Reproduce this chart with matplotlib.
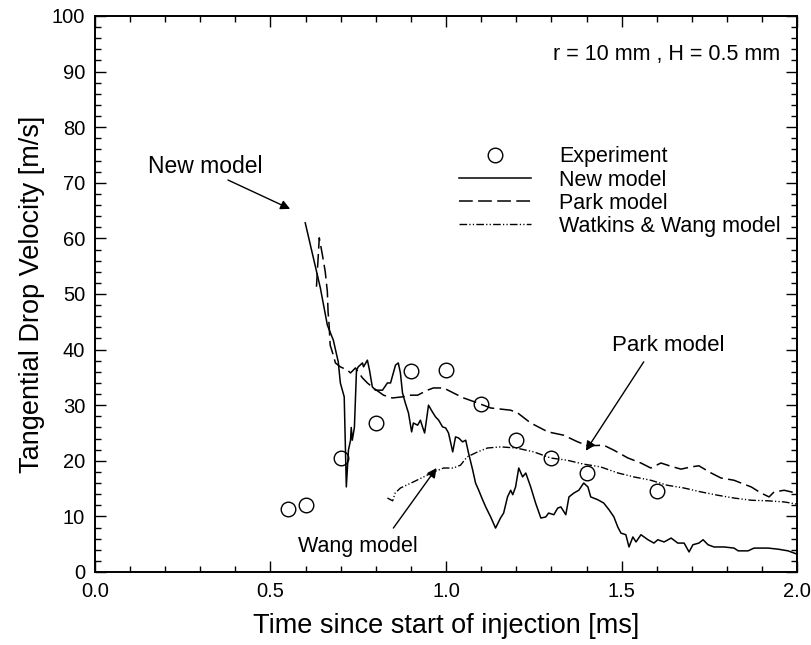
import matplotlib
matplotlib.use("Agg")
import matplotlib.pyplot as plt
from matplotlib.ticker import MultipleLocator, FormatStrFormatter

plt.rcParams['font.family'] = ['Liberation Sans', 'DejaVu Sans']

# Experimental tangential drop velocity
exp_t = [0.55, 0.60, 0.70, 0.80, 0.90, 1.00, 1.10, 1.20, 1.30, 1.40, 1.60]
exp_v = [11.3, 12.0, 20.5, 26.8, 36.2, 36.4, 30.2, 23.7, 20.5, 17.8, 14.6]

# New model
new_t = [0.599, 0.642, 0.662, 0.679, 0.693, 0.699, 0.710, 0.716, 0.722, 0.728,
         0.730, 0.733, 0.739, 0.745, 0.750, 0.762, 0.765, 0.776, 0.782, 0.790,
         0.799, 0.819, 0.833, 0.842, 0.856, 0.864, 0.870, 0.876, 0.884, 0.893,
         0.902, 0.907, 0.919, 0.927, 0.933, 0.939, 0.947, 0.950, 0.961, 0.970,
         0.979, 0.990, 0.999, 1.007, 1.019, 1.027, 1.036, 1.047, 1.056, 1.064,
         1.076, 1.084, 1.093, 1.104, 1.113, 1.127, 1.141, 1.155, 1.164, 1.175,
         1.184, 1.190, 1.198, 1.207, 1.218, 1.227, 1.241, 1.255, 1.270, 1.284,
         1.292, 1.307, 1.318, 1.327, 1.341, 1.350, 1.364, 1.378, 1.392, 1.404,
         1.412, 1.432, 1.449, 1.464, 1.478, 1.489, 1.498, 1.512, 1.521, 1.532,
         1.541, 1.555, 1.575, 1.592, 1.603, 1.621, 1.641, 1.660, 1.678, 1.692,
         1.703, 1.720, 1.732, 1.746, 1.763, 1.792, 1.820, 1.832, 1.860, 1.877,
         1.917, 1.946, 1.974, 2.000]
new_v = [62.8, 51.1, 44.4, 41.7, 37.8, 34.0, 31.5, 15.3, 21.9, 23.7,
         26.0, 23.7, 26.0, 36.3, 36.9, 37.6, 36.9, 38.1, 36.3, 33.3,
         32.7, 32.7, 34.0, 34.0, 37.2, 37.6, 35.8, 32.2, 30.4, 28.6,
         25.2, 26.8, 26.4, 27.3, 26.1, 25.0, 28.6, 30.0, 28.8, 27.9,
         27.3, 26.1, 25.9, 25.0, 21.6, 24.3, 24.1, 23.4, 23.7, 21.4,
         18.3, 16.0, 14.7, 13.0, 11.7, 9.9, 7.9, 9.7, 10.6, 13.5,
         14.7, 13.9, 15.3, 18.7, 17.1, 17.8, 15.3, 12.4, 9.7, 9.9,
         10.6, 10.3, 11.5, 11.7, 10.3, 13.5, 14.2, 14.7, 16.0, 15.3,
         13.5, 13.0, 12.4, 11.2, 9.9, 8.1, 7.0, 6.7, 4.5, 6.3,
         5.4, 6.7, 5.8, 5.2, 5.8, 5.4, 6.1, 5.2, 5.2, 3.6,
         4.9, 5.2, 5.8, 4.9, 4.5, 4.5, 4.3, 3.8, 3.8, 4.3,
         4.3, 4.1, 3.8, 3.2]

# Park model
park_t = [0.631, 0.639, 0.648, 0.656, 0.662, 0.664, 0.667, 0.670, 0.676, 0.685,
          0.699, 0.719, 0.728, 0.742, 0.762, 0.776, 0.793, 0.822, 0.847, 0.876,
          0.899, 0.919, 0.947, 0.964, 0.993, 1.021, 1.050, 1.090, 1.127, 1.184,
          1.204, 1.241, 1.290, 1.335, 1.375, 1.404, 1.449, 1.478, 1.518, 1.555,
          1.583, 1.612, 1.641, 1.669, 1.698, 1.720, 1.755, 1.783, 1.820, 1.840,
          1.869, 1.897, 1.920, 1.934, 1.963, 1.983, 2.000]
park_v = [51.3, 60.1, 57.0, 54.0, 50.4, 46.8, 44.4, 40.8, 39.6, 37.6,
          36.9, 36.3, 35.8, 36.7, 34.9, 34.0, 33.1, 31.8, 31.3, 31.5,
          31.8, 31.8, 32.7, 33.1, 33.1, 32.2, 31.3, 30.4, 29.5, 29.1,
          28.6, 26.8, 25.2, 24.6, 23.4, 22.7, 22.8, 21.9, 20.5, 19.6,
          18.7, 19.6, 19.0, 18.5, 18.9, 19.1, 17.8, 16.9, 16.5, 16.0,
          15.3, 14.2, 13.5, 14.4, 14.7, 14.4, 14.2]

# Watkins & Wang model
ww_t = [0.833, 0.848, 0.855, 0.870, 0.907, 0.936, 0.965, 0.993, 1.021, 1.041,
        1.060, 1.090, 1.118, 1.155, 1.200, 1.250, 1.298, 1.345, 1.392, 1.440,
        1.490, 1.535, 1.583, 1.630, 1.678, 1.726, 1.774, 1.820, 1.870, 1.917,
        1.963, 2.000]
ww_v = [13.3, 12.8, 14.2, 15.1, 16.2, 17.1, 18.0, 18.7, 18.7, 19.2,
        20.7, 21.6, 22.3, 22.5, 22.3, 21.6, 20.5, 20.1, 19.4, 18.9,
        17.8, 17.1, 16.5, 15.6, 15.1, 14.4, 13.8, 13.3, 12.9, 12.8,
        12.6, 12.2]

fig = plt.figure(figsize=(8.11, 6.45), dpi=100)
ax = fig.add_axes([0.117, 0.1132, 0.866, 0.8620])

ax.plot(exp_t, exp_v, linestyle='none', marker='o', markersize=10.5,
        markerfacecolor='none', markeredgecolor='black', markeredgewidth=1.0,
        label='Experiment')
ax.plot(new_t, new_v, color='black', lw=1.1, label='New model')
ax.plot(park_t, park_v, color='black', lw=1.1, dashes=(9, 3.5),
        label='Park model')
ax.plot(ww_t, ww_v, color='black', lw=1.0,
        dashes=(5.5, 1.6, 0.9, 1.6, 0.9, 1.6), label='Watkins & Wang model')

ax.set_xlim(0.0, 2.0)
ax.set_ylim(0, 100)
ax.xaxis.set_major_locator(MultipleLocator(0.5))
ax.xaxis.set_minor_locator(MultipleLocator(0.1))
ax.yaxis.set_major_locator(MultipleLocator(10))
ax.yaxis.set_minor_locator(MultipleLocator(2))
ax.xaxis.set_major_formatter(FormatStrFormatter('%.1f'))
ax.tick_params(which='both', direction='in', top=True, right=True,
               labelsize=14.5, width=1.0)
ax.tick_params(which='major', length=8, pad=7)
ax.tick_params(which='minor', length=4)
for s in ax.spines.values():
    s.set_linewidth(1.4)

ax.set_xlabel('Time since start of injection [ms]', fontsize=19.5, labelpad=9)
ax.set_ylabel('Tangential Drop Velocity [m/s]', fontsize=19.5, labelpad=5)

ax.text(1.95, 93.0, 'r = 10 mm , H = 0.5 mm', ha='right', va='center',
        fontsize=15.5)

leg = ax.legend(loc='upper left', bbox_to_anchor=(0.506, 0.781), frameon=False,
                fontsize=15.5, handlelength=3.35, handletextpad=1.3,
                labelspacing=0.1, borderaxespad=0, numpoints=1)

arrow = dict(arrowstyle='-|>', color='black', lw=1.0,
             mutation_scale=14, shrinkA=0, shrinkB=0)
ax.text(0.314, 73.0, 'New model', fontsize=16.5, ha='center', va='center')
ax.annotate('', xy=(0.556, 65.3), xytext=(0.379, 70.5), arrowprops=arrow)
ax.text(1.632, 40.8, 'Park model', fontsize=16, ha='center', va='center')
ax.annotate('', xy=(1.398, 21.8), xytext=(1.563, 37.8), arrowprops=arrow)
ax.text(0.75, 4.6, 'Wang model', fontsize=15.5, ha='center', va='center')
ax.annotate('', xy=(0.973, 18.7), xytext=(0.85, 7.9), arrowprops=arrow)

fig.savefig('out.png', dpi=100)
